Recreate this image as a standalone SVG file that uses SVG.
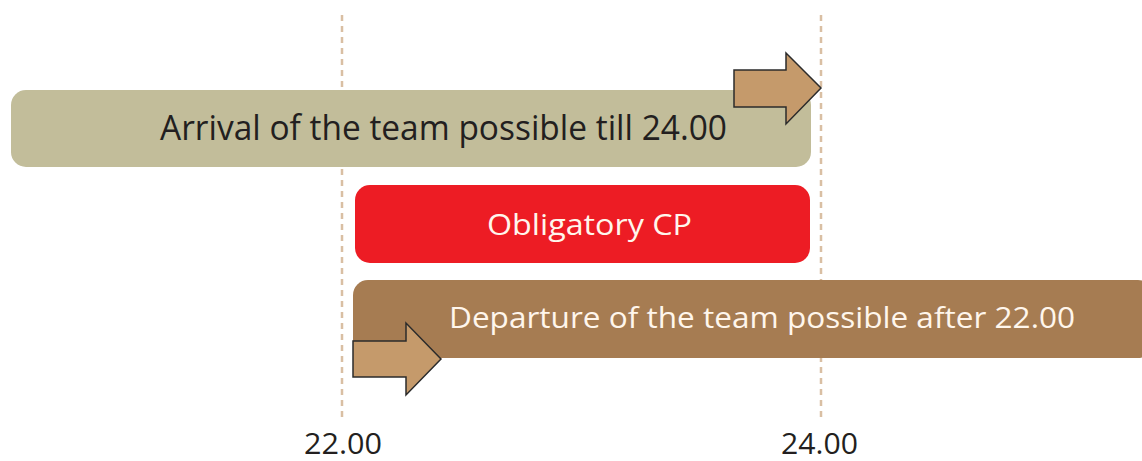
<svg xmlns="http://www.w3.org/2000/svg" width="1142" height="461" viewBox="0 0 1142 461">
  <style>
    .guide { stroke: #d9bfa3; stroke-width: 2.5; stroke-dasharray: 6 5; fill: none; }
    .bar-text { font-family: "Open Sans", "Liberation Sans", sans-serif; }
    .dark { fill: #231f20; }
    .light { fill: #fff6ec; }
    .arrow { fill: #c59a6b; stroke: #2b2b2b; stroke-width: 1.5; stroke-linejoin: miter; }
  </style>

  <!-- time guides -->
  <g id="connectors">
    <line class="guide" x1="342" y1="15" x2="342" y2="420"/>
    <line class="guide" x1="821" y1="15" x2="821" y2="420"/>
  </g>

  <g id="arrival">
    <rect x="11" y="90" width="800" height="77" rx="15" fill="#c2bd9a"/>
    <text class="bar-text dark" x="160" y="140" font-size="34" textLength="567" lengthAdjust="spacingAndGlyphs">Arrival of the team possible till 24.00</text>
  </g>

  <g id="arrival-arrow">
    <polygon class="arrow" points="734,70 786,70 786,53 821,88 786,124 786,107 734,107"/>
  </g>

  <g id="obligatory">
    <rect x="355" y="185" width="455" height="78" rx="15" fill="#ed1c24"/>
    <text class="bar-text light" x="487" y="235" font-size="30" textLength="205" lengthAdjust="spacingAndGlyphs">Obligatory CP</text>
  </g>

  <g id="departure">
    <rect x="353" y="280" width="800" height="78" rx="15" fill="#a67c52"/>
    <text class="bar-text light" x="449" y="328" font-size="29" textLength="626" lengthAdjust="spacingAndGlyphs">Departure of the team possible after 22.00</text>
  </g>

  <g id="departure-arrow">
    <polygon class="arrow" points="353,341 406,341 406,323 441,359 406,395 406,377 353,377"/>
  </g>

  <g id="axis-labels">
    <text class="bar-text dark" x="304" y="454" font-size="29" textLength="78" lengthAdjust="spacingAndGlyphs">22.00</text>
    <text class="bar-text dark" x="781" y="454" font-size="29" textLength="77" lengthAdjust="spacingAndGlyphs">24.00</text>
  </g>
</svg>
